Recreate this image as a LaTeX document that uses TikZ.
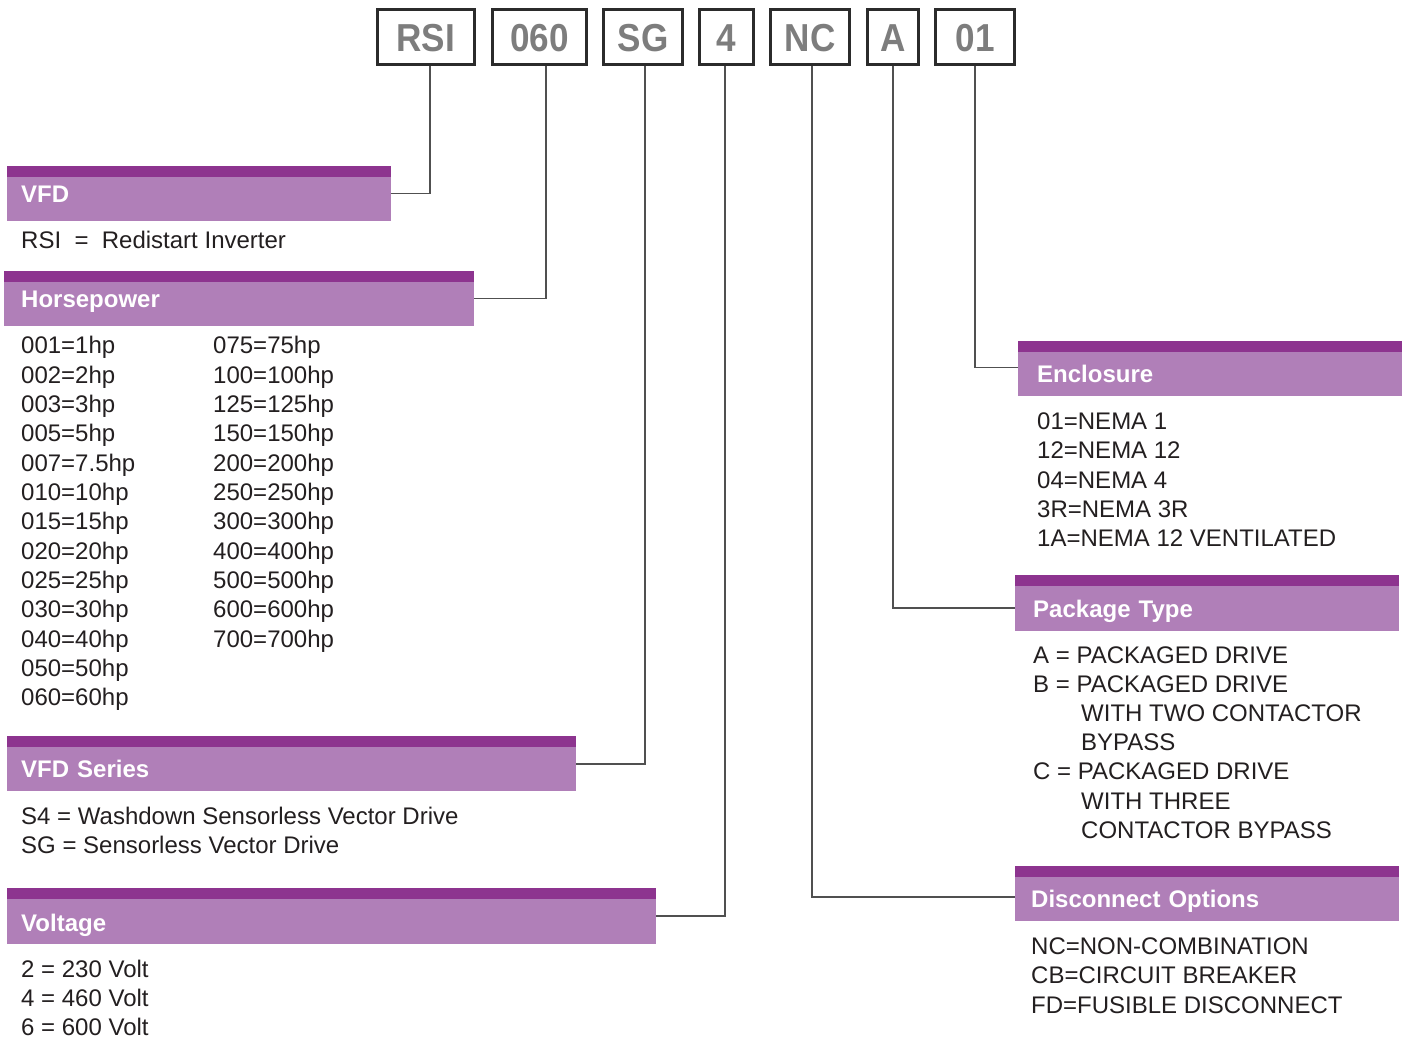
\documentclass[tikz,border=0pt]{standalone}
\usepackage{fontspec}
\setmainfont{Liberation Sans}
\newfontfamily\codefont[FakeStretch=0.9]{Liberation Sans}
\definecolor{stripe}{RGB}{141,52,143}
\definecolor{hdrfill}{RGB}{176,127,184}
\definecolor{codegray}{RGB}{125,125,125}
\definecolor{boxline}{RGB}{43,43,43}
\definecolor{conn}{RGB}{80,80,80}
\definecolor{bodytext}{RGB}{35,31,32}
\tikzset{
  codebox/.style={draw=boxline, line width=3pt, fill=white, minimum height=55pt,
    inner xsep=0pt, inner ysep=0pt, text height=42.5pt, text depth=12.5pt,
    text=codegray, font=\codefont\fontsize{39}{39}\selectfont\bfseries},
  hdr/.style={fill=hdrfill, anchor=north west, inner ysep=0pt, align=left,
    text=white, font=\fontsize{24}{28}\selectfont\bfseries,
    path picture={\fill[stripe] (path picture bounding box.north west) rectangle ([yshift=-10.5pt]path picture bounding box.north east);}},
  body/.style={anchor=base west, inner sep=0pt, text=bodytext, font=\fontsize{24}{29}\selectfont},
  link/.style={draw=conn, line width=1.6pt},
}
\begin{document}
\begin{tikzpicture}[x=1pt,y=-1pt]
\useasboundingbox (0,0) rectangle (1408,1040);

% code boxes
\node[codebox, minimum width=97pt] (rsi) at (425.5,37) {RSI};
\node[codebox, minimum width=94pt] (hp) at (539.5,37) {060};
\node[codebox, minimum width=79pt] (sg) at (643,37) {SG};
\node[codebox, minimum width=54pt] (vo) at (726.5,37) {4};
\node[codebox, minimum width=79pt] (nc) at (810,37) {NC};
\node[codebox, minimum width=51pt] (pk) at (893,37) {A};
\node[codebox, minimum width=79pt] (en) at (975,37) {01};

% headers
\node[hdr, minimum width=384pt, inner xsep=14pt, text width=356pt, text height=36.5pt, text depth=18.5pt] (hVFD) at (7,166) {VFD};
\node[hdr, minimum width=470pt, inner xsep=17pt, text width=436pt, text height=36.5pt, text depth=18.5pt] (hHP) at (4,271) {Horsepower};
\node[hdr, minimum width=569pt, inner xsep=14pt, text width=541pt, text height=41pt, text depth=14pt] (hSeries) at (7,736) {VFD Series};
\node[hdr, minimum width=649pt, inner xsep=14pt, text width=621pt, text height=43pt, text depth=13pt] (hVolt) at (7,888) {Voltage};
\node[hdr, minimum width=384pt, inner xsep=19pt, text width=346pt, text height=41.5pt, text depth=13.5pt] (hEncl) at (1018,341) {Enclosure};
\node[hdr, minimum width=384pt, inner xsep=18pt, text width=348pt, text height=42.5pt, text depth=13pt] (hPkg) at (1015,575) {Package Type};
\node[hdr, minimum width=384pt, inner xsep=16pt, text width=352pt, text height=41.5pt, text depth=13.5pt] (hDisc) at (1015,866) {Disconnect Options};

% connectors
\draw[link] ([xshift=4.5pt]rsi.south) |- (hVFD.east);
\draw[link] ([xshift=6.5pt]hp.south) |- (hHP.east);
\draw[link] ([xshift=2pt]sg.south) |- (hSeries.east);
\draw[link] ([xshift=-1.5pt]vo.south) |- (hVolt.east);
\draw[link] ([xshift=2pt]nc.south) |- ([yshift=-3pt]hDisc.west);
\draw[link] (pk.south) |- ([yshift=-5pt]hPkg.west);
\draw[link] (en.south) |- ([yshift=1pt]hEncl.west);

% body texts
\node[body] (rsiText) at (21,248.5) {RSI~~=~~Redistart Inverter};

\foreach \t [count=\i from 0] in {001=1hp,002=2hp,003=3hp,005=5hp,007=7.5hp,010=10hp,015=15hp,020=20hp,025=25hp,030=30hp,040=40hp,050=50hp,060=60hp}
  \node[body] (hpA-\i) at (21,353.8+29.33*\i) {\t};
\foreach \t [count=\i from 0] in {075=75hp,100=100hp,125=125hp,150=150hp,200=200hp,250=250hp,300=300hp,400=400hp,500=500hp,600=600hp,700=700hp}
  \node[body] (hpB-\i) at (213,353.8+29.33*\i) {\t};

\node[body] (ser-0) at (21,824.5) {S4 = Washdown Sensorless Vector Drive};
\node[body] (ser-1) at (21,853.8) {SG = Sensorless Vector Drive};

\foreach \t [count=\i from 0] in {2 = 230 Volt,4 = 460 Volt,6 = 600 Volt}
  \node[body] (volt-\i) at (21,977.3+29.2*\i) {\t};

\foreach \t [count=\i from 0] in {01=NEMA 1,12=NEMA 12,04=NEMA 4,3R=NEMA 3R,1A=NEMA 12 VENTILATED}
  \node[body] (encl-\i) at (1037,429.5+29.3*\i) {\t};

\foreach \x/\t [count=\i from 0] in {1033/A = PACKAGED DRIVE,1033/B = PACKAGED DRIVE,1081/WITH TWO CONTACTOR,1081/BYPASS,1033/C = PACKAGED DRIVE,1081/WITH THREE,1081/CONTACTOR BYPASS}
  \node[body] (pkg-\i) at (\x,663.5+29.1*\i) {\t};

\foreach \t [count=\i from 0] in {NC=NON-COMBINATION,CB=CIRCUIT BREAKER,FD=FUSIBLE DISCONNECT}
  \node[body] (disc-\i) at (1031,954+29.6*\i) {\t};
\end{tikzpicture}
\end{document}
